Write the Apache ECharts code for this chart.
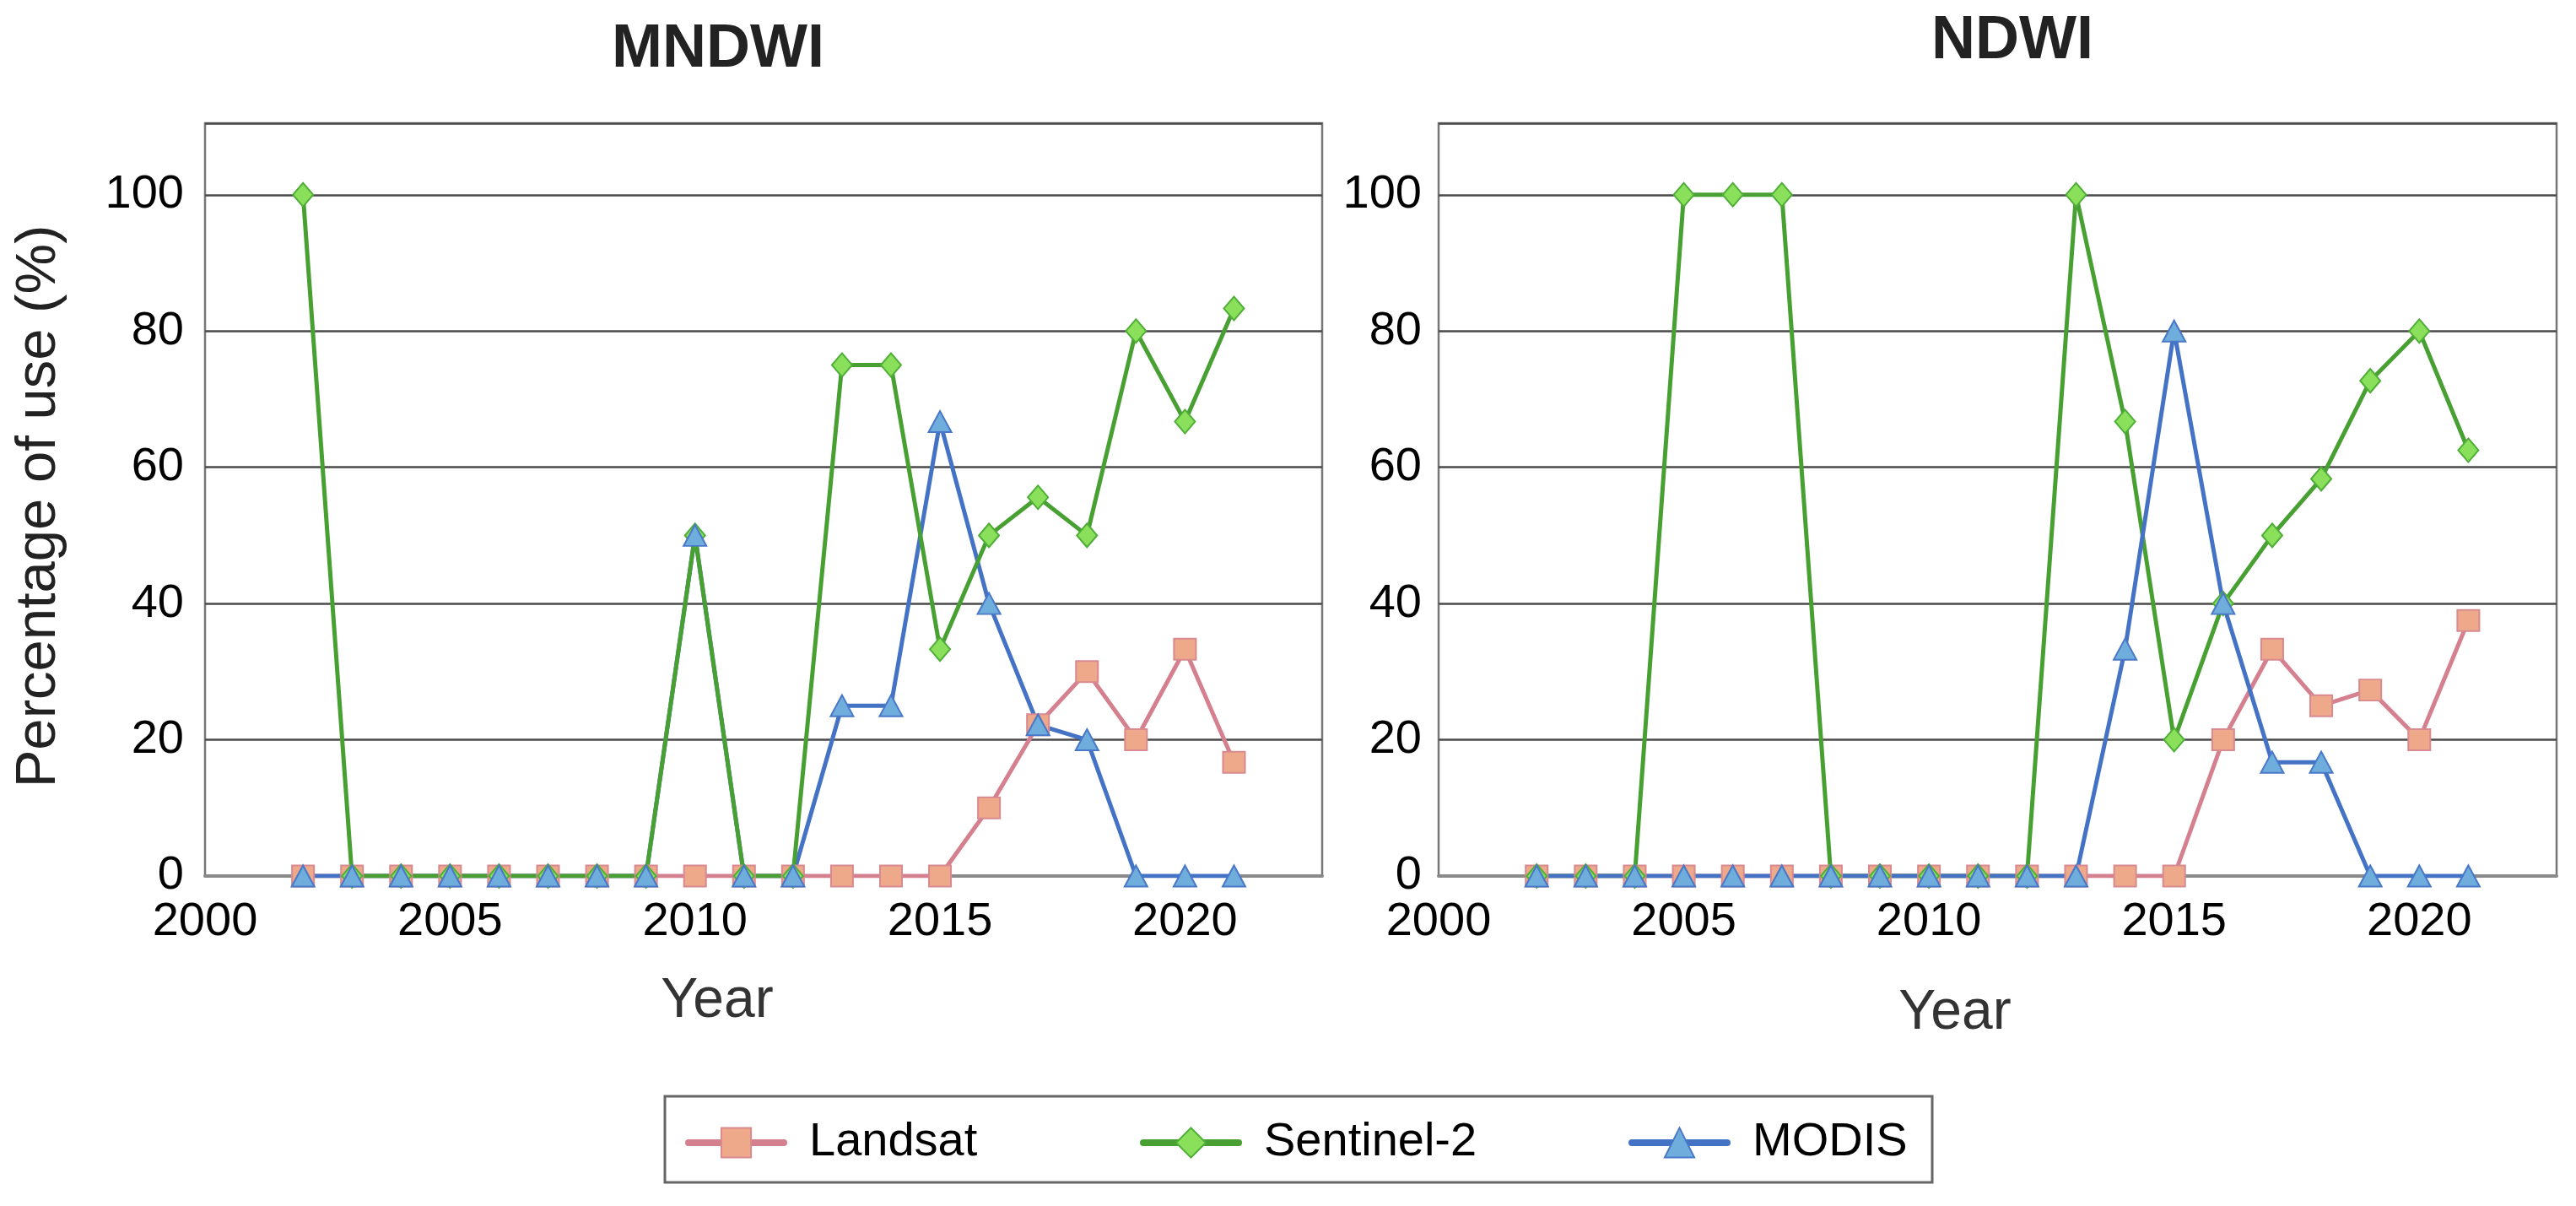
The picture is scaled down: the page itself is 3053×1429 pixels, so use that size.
<!DOCTYPE html>
<html>
<head>
<meta charset="utf-8">
<script src="https://cdn.jsdelivr.net/npm/echarts@6/dist/echarts.min.js"></script>
<style>
html,body{margin:0;padding:0;background:#ffffff;}
#chart{width:3053px;height:1429px;}
</style>
</head>
<body>
<div id="chart"></div>
<script>
// ---------- data ----------
const years = [2002,2003,2004,2005,2006,2007,2008,2009,2010,2011,2012,2013,2014,2015,2016,2017,2018,2019,2020,2021];

const mndwiLandsat   = [0,0,0,0,0,0,0,0,0,0,0,0,0,0,10,22.2,30,20,33.3,16.7];
const mndwiSentinel2 = [100,0,0,0,0,0,0,0,50,0,0,75,75,33.3,50,55.6,50,80,66.7,83.3];
const mndwiModis     = [0,0,0,0,0,0,0,0,50,0,0,25,25,66.7,40,22.2,20,0,0,0];

const ndwiLandsat    = [0,0,0,0,0,0,0,0,0,0,0,0,0,0,20,33.3,25,27.3,20,37.5];
const ndwiSentinel2  = [0,0,0,100,100,100,0,0,0,0,0,100,66.7,20,40,50,58.3,72.7,80,62.5];
const ndwiModis      = [0,0,0,0,0,0,0,0,0,0,0,0,33.3,80,40,16.7,16.7,0,0,0];

const panelTitles = ['MNDWI', 'NDWI'];
const seriesNames = ['Landsat', 'Sentinel-2', 'MODIS'];
const yTicks = [0, 20, 40, 60, 80, 100];
const xTicks = [2000, 2005, 2010, 2015, 2020];

// ---------- styles ----------
const FONT = '"Liberation Sans", Arial, Helvetica, sans-serif';
const styles = {
  'Landsat':    {line:'#d5808f', fill:'#eea98a', border:'#d88a90', symbol:'rect',     size:[26,25]},
  'Sentinel-2': {line:'#48a033', fill:'#8ae05a', border:'#4fae38', symbol:'diamond',  size:[24,28]},
  'MODIS':      {line:'#4472c4', fill:'#6faedc', border:'#4a78c8', symbol:'triangle', size:[27,25]}
};

function pairs(vals){ return years.map((y,i)=>[y, vals[i]]); }

const panels = [
  {data:{'Landsat':mndwiLandsat,'Sentinel-2':mndwiSentinel2,'MODIS':mndwiModis},
   lineOrder:['Landsat','MODIS','Sentinel-2']},
  {data:{'Landsat':ndwiLandsat,'Sentinel-2':ndwiSentinel2,'MODIS':ndwiModis},
   lineOrder:['Landsat','Sentinel-2','MODIS']}
];

const grids = [
  {left:243, top:146, width:1324, height:892},
  {left:1705, top:146, width:1325, height:892}
];
const yLabelMargins = [25, 20];

const series = [];
panels.forEach((p, gi) => {
  p.lineOrder.forEach((name, k) => {
    const st = styles[name];
    series.push({
      type:'line', name:name, xAxisIndex:gi, yAxisIndex:gi,
      data:pairs(p.data[name]),
      showSymbol:false, symbol:st.symbol, symbolSize:st.size,
      lineStyle:{color:st.line, width:5},
      itemStyle:{color:st.fill, borderColor:st.border, borderWidth:2},
      z:2+k, silent:true, animation:false
    });
  });
  seriesNames.forEach((name, k) => {
    const st = styles[name];
    series.push({
      type:'scatter', name:name + ' markers ' + gi, xAxisIndex:gi, yAxisIndex:gi,
      data:pairs(p.data[name]),
      symbol:st.symbol, symbolSize:st.size,
      itemStyle:{color:st.fill, borderColor:st.border, borderWidth:2, opacity:1},
      z:10+k, silent:true, animation:false
    });
  });
});

const xAxes = grids.map((g, i) => ({
  type:'value', gridIndex:i, min:2000, max:2022.8, interval:5,
  axisLine:{show:true, onZero:false, lineStyle:{color:'#8a8a8a', width:4}},
  axisTick:{show:false},
  splitLine:{show:false},
  axisLabel:{fontSize:56, color:'#000', fontFamily:FONT, margin:27,
    formatter:v => xTicks.indexOf(Math.round(v)) >= 0 && Math.abs(v-Math.round(v))<1e-6 ? String(Math.round(v)) : ''}
}));

const yAxes = grids.map((g, i) => ({
  type:'value', gridIndex:i, min:0, max:110.5, interval:20,
  axisLine:{show:false},
  axisTick:{show:false},
  splitLine:{show:true, lineStyle:{color:'#4a4a4a', width:2.5}},
  axisLabel:{fontSize:56, color:'#000', fontFamily:FONT, margin:yLabelMargins[i],
    formatter:v => yTicks.indexOf(Math.round(v)) >= 0 && Math.abs(v-Math.round(v))<1e-6 ? String(Math.round(v)) : ''}
}));

const legendLefts = [807, 1346, 1925];
const legends = seriesNames.map((name, i) => ({
  show:true, left:legendLefts[i], top:1321, orient:'horizontal',
  data:[name], selectedMode:false,
  itemWidth:113, itemHeight:44,
  lineStyle:{width:8, cap:'round'},
  itemStyle:{borderWidth:2},
  textStyle:{fontSize:56, color:'#000', fontFamily:FONT, padding:[0,0,0,25]}
}));

const graphics = [
  {type:'text', x:851, y:59, style:{text:panelTitles[0], font:'bold 72px ' + FONT, fill:'#222', align:'center', verticalAlign:'middle'}},
  {type:'text', x:2385, y:49, style:{text:panelTitles[1], font:'bold 72px ' + FONT, fill:'#222', align:'center', verticalAlign:'middle'}},
  {type:'text', x:47, y:600, rotation:Math.PI/2, style:{text:'Percentage of use (%)', font:'67px ' + FONT, fill:'#222', align:'center', verticalAlign:'middle'}},
  {type:'text', x:850, y:1187, style:{text:'Year', font:'66px ' + FONT, fill:'#333', align:'center', verticalAlign:'middle'}},
  {type:'text', x:2317, y:1201, style:{text:'Year', font:'66px ' + FONT, fill:'#333', align:'center', verticalAlign:'middle'}},
  {type:'rect', shape:{x:788, y:1299, width:1502, height:102}, style:{fill:'none', stroke:'#666', lineWidth:3}}
];

const chart = echarts.init(document.getElementById('chart'), null, {renderer:'canvas'});
chart.setOption({
  backgroundColor:'#ffffff',
  animation:false,
  grid:grids.map(g => Object.assign({show:true, borderColor:'#777', borderWidth:2.5, backgroundColor:'transparent'}, g)),
  xAxis:xAxes,
  yAxis:yAxes,
  legend:legends,
  graphic:graphics,
  series:series
});
</script>
</body>
</html>
